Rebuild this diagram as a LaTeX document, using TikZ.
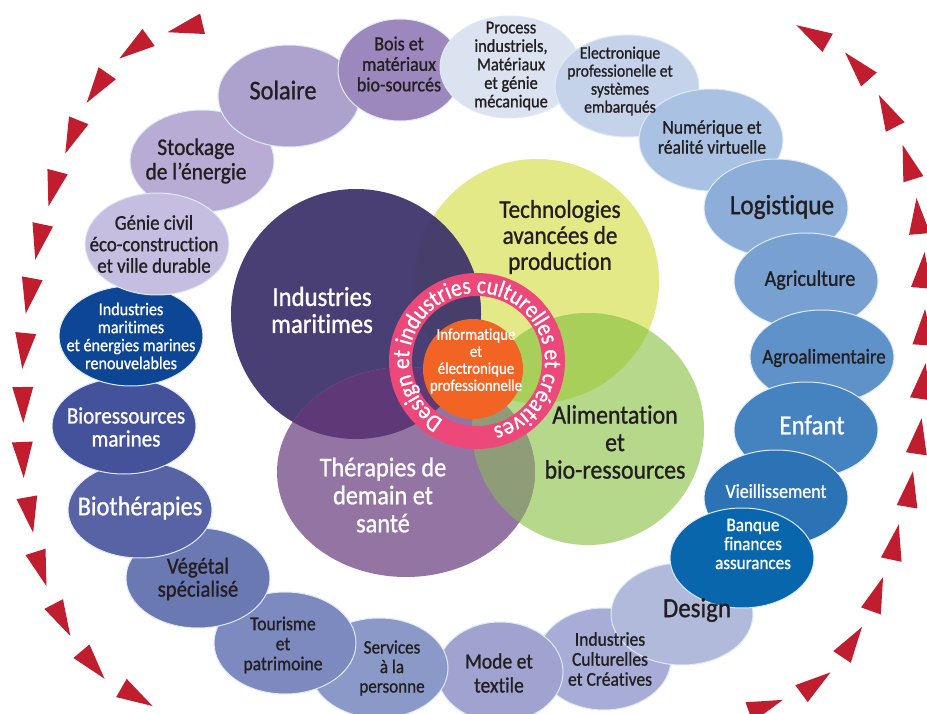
\documentclass[tikz,border=0pt]{standalone}
\usepackage{fontspec}
\setmainfont{Carlito}[FakeStretch=0.9, FakeBold=1, Ligatures=NoCommon]
\usepackage{tikz}
\usetikzlibrary{shapes.geometric,decorations.text}

\definecolor{ink}{RGB}{35,31,32}
\definecolor{rim}{RGB}{222,234,247}
\definecolor{arrowred}{RGB}{192,30,46}
\definecolor{cSolaire}{RGB}{173,162,205}
\definecolor{cBois}{RGB}{157,136,190}
\definecolor{cStockage}{RGB}{184,172,213}
\definecolor{cGenie}{RGB}{198,190,224}
\definecolor{cProcess}{RGB}{220,227,240}
\definecolor{cElectro}{RGB}{197,211,234}
\definecolor{cNumerique}{RGB}{169,193,226}
\definecolor{cLogistique}{RGB}{141,174,216}
\definecolor{cAgri}{RGB}{120,161,209}
\definecolor{cAgro}{RGB}{95,146,200}
\definecolor{cEnfant}{RGB}{69,131,192}
\definecolor{cVieil}{RGB}{44,115,181}
\definecolor{cBanque}{RGB}{7,102,172}
\definecolor{cDesign}{RGB}{177,186,219}
\definecolor{cCulture}{RGB}{167,173,214}
\definecolor{cMode}{RGB}{160,163,208}
\definecolor{cServices}{RGB}{138,153,200}
\definecolor{cTourisme}{RGB}{124,138,192}
\definecolor{cVegetal}{RGB}{107,121,179}
\definecolor{cBiother}{RGB}{87,99,164}
\definecolor{cBiores}{RGB}{68,82,155}
\definecolor{cEmr}{RGB}{12,70,149}
\definecolor{cIndMar}{RGB}{74,63,116}
\definecolor{cTechno}{RGB}{227,233,134}
\definecolor{cAlim}{RGB}{181,216,139}
\definecolor{cThera}{RGB}{148,116,163}
\definecolor{cIndTech}{RGB}{71,62,108}
\definecolor{cIndThera}{RGB}{95,56,119}
\definecolor{cTechAlim}{RGB}{168,207,89}
\definecolor{cTheraAlim}{RGB}{142,157,120}
\definecolor{cRing}{RGB}{236,72,122}
\definecolor{cInfo}{RGB}{242,100,36}

\newcommand{\fs}[2]{\fontsize{#1}{#2}\selectfont}
\newcommand{\ringfont}{\fontsize{24}{24}\selectfont}

\begin{document}
\begin{tikzpicture}[x=1pt,y=1pt,
  bubble/.style={ellipse, draw=rim, line width=1pt, inner sep=0pt},
  blob/.style={circle, inner sep=0pt},
  lbl/.style={align=center, text=ink, inner sep=0pt},
  wlbl/.style={lbl, text=white},
  dart/.style={fill=arrowred}]
\useasboundingbox (0,0) rectangle (927,-714);
\fill[white] (0,0) rectangle (927,-714);
\clip (0,0) rectangle (927,-714);

\foreach \px/\py/\a in {185/-28/193.5, 134/-48/215.7, 97/-88/235.2, 72/-137/248, 53/-189/255.2,
  39/-242/258, 29/-296/259.5, 24/-351/264.4, 23/-405/270.8, 23/-460/272.3, 30/-515/280,
  41/-569/287.7, 62/-620/297.6, 93/-665/310, 137/-697/329.9,
  766/-706/20, 816/-683/36.3, 852/-642/56.3, 877/-594/70.3, 895/-542/78, 910/-489/80.5,
  919/-436/81.5, 923/-381/81.7, 924/-327/86.5, 923/-270/85, 918/-216/94.8, 908/-162/107.4,
  887/-111/117, 857/-66/131.6, 812/-34/150.6}
  \fill[dart, shift={(\px,\py)}, rotate=\a] (18pt,0pt) -- (-18pt,10.5pt) -- (-18pt,-10.5pt) -- cycle;

\node[bubble, fill=cCulture, minimum width=134pt, minimum height=102pt] (culture) at (604,-659) {};
\node[bubble, fill=cDesign, minimum width=142pt, minimum height=102pt] (design) at (682,-614) {};
\node[bubble, fill=cMode, minimum width=126pt, minimum height=100pt] (mode) at (500,-672) {};
\node[bubble, fill=cServices, minimum width=138pt, minimum height=100pt] (services) at (379,-668) {};
\node[bubble, fill=cTourisme, minimum width=142pt, minimum height=102pt] (tourisme) at (285,-643) {};
\node[bubble, fill=cVegetal, minimum width=144pt, minimum height=100pt] (vegetal) at (198,-578) {};
\node[bubble, fill=cBiother, minimum width=144pt, minimum height=96pt] (biother) at (140,-510) {};
\node[bubble, fill=cBiores, minimum width=144pt, minimum height=96pt] (biores) at (124,-426) {};
\node[bubble, fill=cEmr, minimum width=144pt, minimum height=100pt] (emr) at (131,-336) {};
\node[bubble, fill=cStockage, minimum width=144pt, minimum height=102pt] (stockage) at (202,-161) {};
\node[bubble, fill=cGenie, minimum width=144pt, minimum height=102pt] (genie) at (157,-244) {};
\node[bubble, fill=cSolaire, minimum width=142pt, minimum height=102pt] (solaire) at (289,-96) {};
\node[bubble, fill=cBois, minimum width=124pt, minimum height=102pt] (bois) at (400,-70) {};
\node[bubble, fill=cProcess, minimum width=140pt, minimum height=102pt] (process) at (510,-67) {};
\node[bubble, fill=cElectro, minimum width=144pt, minimum height=102pt] (electro) at (627,-86) {};
\node[bubble, fill=cNumerique, minimum width=144pt, minimum height=102pt] (numerique) at (711,-140) {};
\node[bubble, fill=cLogistique, minimum width=144pt, minimum height=98pt] (logistique) at (776,-208) {};
\node[bubble, fill=cAgri, minimum width=144pt, minimum height=96pt] (agri) at (806,-281) {};
\node[bubble, fill=cAgro, minimum width=144pt, minimum height=94pt] (agro) at (822,-357) {};
\node[bubble, fill=cEnfant, minimum width=144pt, minimum height=96pt] (enfant) at (806,-430) {};
\node[bubble, fill=cVieil, minimum width=144pt, minimum height=96pt] (vieil) at (776,-498) {};
\node[bubble, fill=cBanque, minimum width=144pt, minimum height=100pt] (banque) at (742,-558) {};

\node[blob, fill=cTechno, minimum size=244pt] (techno) at (537,-281) {};
\node[blob, fill=cAlim, minimum size=232pt] (alim) at (588,-429) {};
\begin{scope}
  \clip (techno.center) circle[radius=122pt];
  \fill[cTechAlim] (alim.center) circle[radius=116pt];
\end{scope}
\node[blob, fill=cIndMar, minimum size=250pt] (indmar) at (356,-314) {};
\begin{scope}
  \clip (techno.center) circle[radius=122pt];
  \fill[cIndTech] (indmar.center) circle[radius=125pt];
\end{scope}
\node[ellipse, inner sep=0pt, fill=cThera, minimum width=258pt, minimum height=210pt] (thera) at (406,-472) {};
\begin{scope}
  \clip (thera.center) ellipse[x radius=129pt, y radius=105pt];
  \fill[cIndThera] (indmar.center) circle[radius=125pt];
  \fill[cTheraAlim] (alim.center) circle[radius=116pt];
\end{scope}

\coordinate (hub) at (477,-361);
\fill[cRing, even odd rule] (hub) circle[radius=88pt] circle[radius=65pt];
\node[blob, fill=cInfo, minimum size=100pt] (info) at (473,-369) {};
\path[decorate, decoration={text along path, text align=center, text color=white,
  text={|\ringfont|Design et industries culturelles et créatives}}]
  (hub) ++(242:68pt) arc[start angle=242, end angle=-78, radius=68pt];

\node[lbl, font=\fs{25.7}{26}] (techno-t) at (560,-237) {Technologies\\avancées de\\production};
\node[wlbl, font=\fs{27.5}{27}] (indmar-t) at (322,-310) {Industries\\maritimes};
\node[lbl, font=\fs{26.5}{27.5}] (alim-t) at (615,-442) {Alimentation\\et\\bio-ressources};
\node[wlbl, font=\fs{27}{28}] (thera-t) at (383,-495) {Thérapies de\\demain et\\santé};
\node[wlbl, font=\fs{16.5}{17}] (info-t) at (476,-361) {Informatique\\et\\électronique\\professionnelle};

\node[lbl, font=\fs{27}{28}] (solaire-t) at (283,-90) {Solaire};
\node[lbl, font=\fs{20}{20.5}] (bois-t) at (399,-64) {Bois et\\matériaux\\bio-sourcés};
\node[lbl, font=\fs{18.2}{18.5}] (process-t) at (511,-66) {Process\\industriels,\\Matériaux\\et génie\\mécanique};
\node[lbl, font=\fs{17.4}{18}] (electro-t) at (620,-81) {Electronique\\professionelle et\\systèmes\\embarqués};
\node[lbl, font=\fs{19.5}{20}] (numerique-t) at (712,-137) {Numérique et\\réalité virtuelle};
\node[lbl, font=\fs{28}{28}] (logistique-t) at (782,-207) {Logistique};
\node[lbl, font=\fs{22.4}{22}] (agri-t) at (810,-280) {Agriculture};
\node[lbl, font=\fs{21}{21}] (agro-t) at (824,-358) {Agroalimentaire};
\node[wlbl, font=\fs{27.6}{28}] (enfant-t) at (812,-425) {Enfant};
\node[wlbl, font=\fs{19.9}{20}] (vieil-t) at (776,-491) {Vieillissement};
\node[wlbl, font=\fs{19}{19}] (banque-t) at (753,-544) {Banque\\finances\\assurances};
\node[lbl, font=\fs{27.7}{28}] (design-t) at (697,-610) {Design};
\node[lbl, font=\fs{19.5}{20}] (culture-t) at (610,-659) {Industries\\Culturelles\\et Créatives};
\node[lbl, font=\fs{21.8}{24}] (mode-t) at (499,-673) {Mode et\\textile};
\node[lbl, font=\fs{19}{19.5}] (services-t) at (392,-668) {Services\\à la\\personne};
\node[lbl, font=\fs{19.6}{20}] (tourisme-t) at (283,-645) {Tourisme\\et\\patrimoine};
\node[lbl, font=\fs{23}{23}] (vegetal-t) at (198,-579) {Végétal\\spécialisé};
\node[wlbl, font=\fs{27.1}{28}] (biother-t) at (140,-508) {Biothérapies};
\node[wlbl, font=\fs{23.4}{23}] (biores-t) at (126,-427) {Bioressources\\marines};
\node[wlbl, font=\fs{17.9}{18}] (emr-t) at (131,-336) {Industries\\maritimes\\et énergies marines\\renouvelables};
\node[lbl, font=\fs{20.9}{21.5}] (genie-t) at (154,-244) {Génie civil\\éco-construction\\et ville durable};
\node[lbl, font=\fs{23.8}{24.5}] (stockage-t) at (196,-161) {Stockage\\de l’énergie};
\end{tikzpicture}
\end{document}
